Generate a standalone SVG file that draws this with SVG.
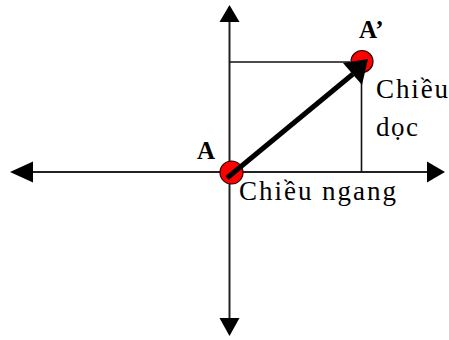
<svg xmlns="http://www.w3.org/2000/svg" width="449" height="340" viewBox="0 0 449 340">
<style>
.axis{stroke:#222;stroke-width:2;fill:none}
.thin{stroke:#111;stroke-width:1.6;fill:none}
.head{fill:#000}
.pt{fill:#f00;stroke:#300;stroke-width:1.2}
.lbl{font-family:"Liberation Serif","Times New Roman",serif;font-size:27px;fill:#000}
.bold{font-weight:bold;font-size:25px}
</style>
<rect width="449" height="340" fill="#fff"/>
<g id="connectors">
<line class="axis" x1="30" y1="172" x2="430" y2="172"/>
<polygon class="head" points="10,172 33,161.5 33,182.5"/>
<polygon class="head" points="445,172 427,161.5 427,182.5"/>
<line class="axis" x1="229.5" y1="20" x2="229.5" y2="320"/>
<polygon class="head" points="229.5,5 219.5,22 239.5,22"/>
<polygon class="head" points="229.5,336 219.5,318 239.5,318"/>
<line class="thin" x1="229.5" y1="62" x2="350" y2="62"/>
<line class="thin" x1="361.5" y1="70" x2="361.5" y2="172"/>
</g>
<g id="nodeA">
<circle class="pt" cx="231.5" cy="172.5" r="11.5"/>
<text class="lbl bold" x="197" y="159">A</text>
</g>
<g id="nodeA2">
<circle class="pt" cx="362" cy="61.5" r="11"/>
<text class="lbl bold" x="359" y="38">A’</text>
</g>
<g id="vector">
<line x1="227" y1="178" x2="353" y2="74" stroke="#000" stroke-width="5"/>
<polygon class="head" points="343,63 362,85 368,59"/>
</g>
<g id="labels">
<text class="lbl" x="376" y="98" textLength="72" lengthAdjust="spacing">Chiều</text>
<text class="lbl" x="376" y="136" textLength="42" lengthAdjust="spacing">dọc</text>
<text class="lbl" x="239" y="200" textLength="157" lengthAdjust="spacing">Chiều ngang</text>
</g>
</svg>
